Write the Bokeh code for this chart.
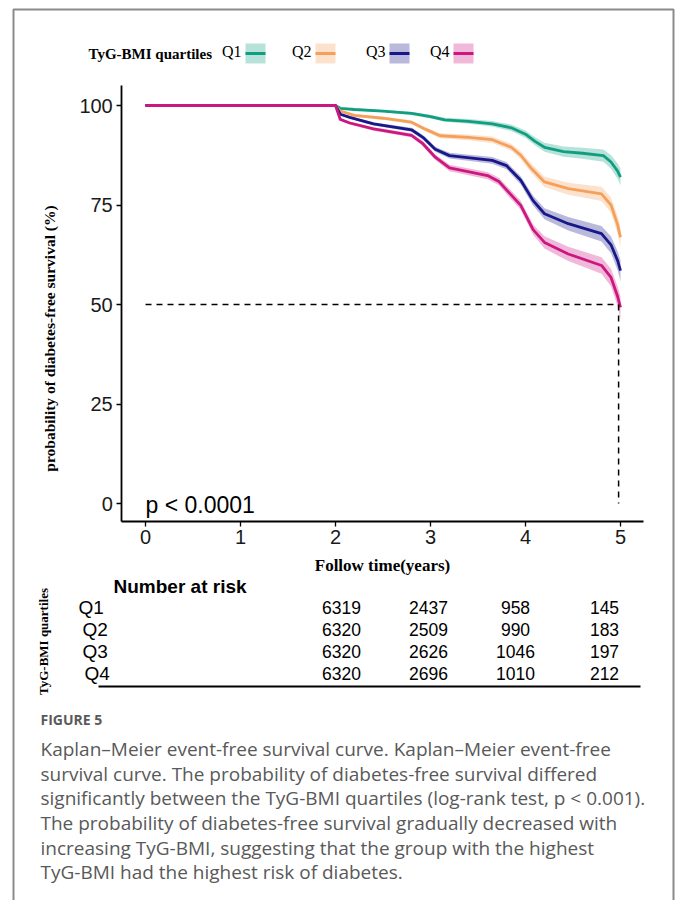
import math
from bokeh.plotting import figure
from bokeh.models import Range1d, LinearAxis, FixedTicker
from bokeh.embed import file_html
from bokeh.resources import INLINE
from bokeh.core.properties import value

# ---------------- data ----------------
groups = ["Q1", "Q2", "Q3", "Q4"]
colors = ["#0F9E80", "#F5A05A", "#18188A", "#CC1780"]

q1_t = [0, 2.0, 2.05, 2.2, 2.5, 2.8, 3.0, 3.15, 3.4, 3.65, 3.85, 4.0, 4.1, 4.2, 4.4, 4.6, 4.82, 4.9, 4.97, 5.0]
q1_s = [100, 100, 99.3, 99.0, 98.6, 98.0, 97.2, 96.4, 96.0, 95.4, 94.4, 92.8, 91.0, 89.5, 88.4, 88.0, 87.4, 85.8, 83.5, 82.0]
q1_ci = [0, 0, 0.15, 0.25, 0.3, 0.4, 0.45, 0.5, 0.6, 0.7, 0.8, 0.9, 1.0, 1.15, 1.3, 1.4, 1.55, 1.7, 1.9, 2.1]

q2_t = [0, 2.0, 2.05, 2.2, 2.5, 2.8, 2.95, 3.1, 3.4, 3.65, 3.85, 3.95, 4.05, 4.2, 4.45, 4.8, 4.9, 4.97, 5.0]
q2_s = [100, 100, 98.6, 97.5, 96.8, 95.8, 94.0, 92.4, 92.0, 91.4, 89.5, 87.5, 84.5, 80.8, 79.1, 77.8, 75.0, 70.0, 66.9]
q2_ci = [0, 0, 0.2, 0.3, 0.4, 0.45, 0.55, 0.65, 0.7, 0.8, 0.9, 1.0, 1.15, 1.3, 1.5, 1.8, 1.95, 2.3, 2.6]

q3_t = [0, 2.0, 2.05, 2.15, 2.4, 2.8, 2.92, 3.05, 3.2, 3.65, 3.8, 3.95, 4.08, 4.2, 4.45, 4.8, 4.9, 4.97, 5.0]
q3_s = [100, 100, 97.8, 97.0, 95.4, 93.9, 92.0, 89.0, 87.4, 86.2, 84.9, 81.2, 76.1, 72.8, 70.3, 67.8, 65.0, 61.0, 58.5]
q3_ci = [0, 0, 0.25, 0.3, 0.4, 0.5, 0.6, 0.65, 0.7, 0.85, 0.9, 1.05, 1.25, 1.4, 1.7, 1.95, 2.1, 2.4, 2.7]

q4_t = [0, 2.0, 2.05, 2.15, 2.4, 2.8, 2.92, 3.05, 3.2, 3.6, 3.72, 3.8, 3.95, 4.08, 4.2, 4.45, 4.8, 4.9, 4.97, 5.0]
q4_s = [100, 100, 96.5, 95.6, 94.1, 92.5, 90.4, 87.0, 84.3, 82.4, 80.9, 78.8, 74.9, 68.8, 65.6, 62.7, 59.8, 56.8, 52.0, 49.3]
q4_ci = [0, 0, 0.25, 0.35, 0.45, 0.5, 0.65, 0.7, 0.8, 0.9, 0.95, 1.05, 1.15, 1.3, 1.55, 1.8, 2.1, 2.2, 2.5, 2.8]

median_time = 4.98
median_surv = 50

x_ticks = [0, 1, 2, 3, 4, 5]
y_ticks = [0, 25, 50, 75, 100]

risk_times = [2, 3, 4, 5]
q1_risk = [6319, 2437, 958, 145]
q2_risk = [6320, 2509, 990, 183]
q3_risk = [6320, 2626, 1046, 197]
q4_risk = [6320, 2696, 1010, 212]

p_label = "p < 0.0001"
legend_title = "TyG-BMI quartiles"
y_title = "probability of diabetes-free survival (%)"
x_title = "Follow time(years)"
table_title = "Number at risk"
caption_head = "FIGURE 5"
caption_lines = [
    "Kaplan\u2013Meier event-free survival curve. Kaplan\u2013Meier event-free",
    "survival curve. The probability of diabetes-free survival differed",
    "significantly between the TyG-BMI quartiles (log-rank test, p < 0.001).",
    "The probability of diabetes-free survival gradually decreased with",
    "increasing TyG-BMI, suggesting that the group with the highest",
    "TyG-BMI had the highest risk of diabetes.",
]

# ---------------- layout constants (page pixels) ----------------
W, H = 676, 900
PX0, PY0 = 0, 0            # page offset of the canvas
X0PIX, XSCALE = 145, 95.0  # x=0 at page px 145, 95 px per year
Y0PIX, YSCALE = 503, 3.98  # y=0 at page px 503, 3.98 px per %

x_start = (PX0 - X0PIX) / XSCALE
x_end = (PX0 + W - X0PIX) / XSCALE
y_start = (Y0PIX - (PY0 + H)) / YSCALE
y_end = (Y0PIX - PY0) / YSCALE

p = figure(width=W, height=H, output_backend="svg", toolbar_location=None,
           x_range=Range1d(x_start, x_end), y_range=Range1d(y_start, y_end),
           x_axis_location=None, y_axis_location=None, min_border=0,
           outline_line_color=None, background_fill_color="white",
           border_fill_color="white")
p.grid.visible = False
p.extra_x_ranges = {"px": Range1d(PX0, PX0 + W)}
p.extra_y_ranges = {"px": Range1d(PY0 + H, PY0)}

SANS = value("Liberation Sans")
SERIF = value("Liberation Serif")
CAP = value("Open Sans")

# axes
xaxis = LinearAxis(fixed_location=-4.5, bounds=(-0.25, 5.24),
                   ticker=FixedTicker(ticks=x_ticks))
yaxis = LinearAxis(fixed_location=-0.25, bounds=(-4.5, 105),
                   ticker=FixedTicker(ticks=y_ticks))
for ax in (xaxis, yaxis):
    ax.axis_line_width = 1.8
    ax.axis_line_color = "black"
    ax.major_tick_line_color = "black"
    ax.major_tick_line_width = 1.3
    ax.major_tick_out = 5
    ax.major_tick_in = 0
    ax.minor_tick_line_color = None
    ax.major_label_text_font = "Liberation Sans"
    ax.major_label_text_font_size = "20px"
    ax.major_label_text_color = "#1a1a1a"
    ax.major_label_standoff = 4
p.add_layout(xaxis, "below")
p.add_layout(yaxis, "left")

# survival curves with confidence bands
series = [(q1_t, q1_s, q1_ci), (q2_t, q2_s, q2_ci), (q3_t, q3_s, q3_ci), (q4_t, q4_s, q4_ci)]
for (t, s, ci), c in zip(series, colors):
    lo = [a - b for a, b in zip(s, ci)]
    hi = [a + b for a, b in zip(s, ci)]
    p.varea(x=t, y1=lo, y2=hi, fill_color=c, fill_alpha=0.3)
for (t, s, ci), c in zip(series, colors):
    p.line(t, s, line_color=c, line_width=2.8)

# median lines
p.line([0, median_time], [median_surv, median_surv], line_color="black",
       line_dash="6 5", line_width=1.5)
p.line([median_time, median_time], [median_surv, 0], line_color="black",
       line_dash="6 5", line_width=1.5)

# p-value
p.text(x=[0], y=[-0.5], text=[p_label], text_font=SANS, text_font_size="23px",
       text_baseline="middle", text_align="left", text_color="black")

# axis titles (page px)
p.text(x=[382], y=[565], text=[x_title], x_range_name="px", y_range_name="px",
       text_font=SERIF, text_font_style="bold", text_font_size="17px",
       text_align="center", text_baseline="middle", text_color="black")
p.text(x=[49], y=[338], text=[y_title], x_range_name="px", y_range_name="px",
       angle=math.pi / 2, text_font=SERIF, text_font_style="bold",
       text_font_size="15.5px", text_align="center", text_baseline="middle",
       text_color="black")

# legend
p.text(x=[88], y=[53], text=[legend_title], x_range_name="px", y_range_name="px",
       text_font=SERIF, text_font_style="bold", text_font_size="15px",
       text_baseline="middle", text_color="black")
key_x = [245, 315, 389, 453]
for g, c, kx in zip(groups, colors, key_x):
    p.text(x=[kx - 4], y=[51], text=[g], x_range_name="px", y_range_name="px",
           text_font=SERIF, text_font_size="16px", text_align="right",
           text_baseline="middle", text_color="black")
    p.quad(left=[kx], right=[kx + 20], top=[43], bottom=[63], x_range_name="px",
           y_range_name="px", fill_color=c, fill_alpha=0.3, line_color=None)
    p.segment(x0=[kx], x1=[kx + 20], y0=[53], y1=[53], x_range_name="px",
              y_range_name="px", line_color=c, line_width=3)

# risk table
p.text(x=[113], y=[586], text=[table_title], x_range_name="px", y_range_name="px",
       text_font=SANS, text_font_style="bold", text_font_size="19px",
       text_baseline="middle", text_color="black")
col_x = [341, 428, 515, 604]
row_y = [607, 629, 651, 673]
lab_x = [78, 82, 82, 84]
for g, risk, ry, lx in zip(groups, [q1_risk, q2_risk, q3_risk, q4_risk], row_y, lab_x):
    p.text(x=[lx], y=[ry], text=[g], x_range_name="px", y_range_name="px",
           text_font=SANS, text_font_size="19px", text_baseline="middle",
           text_color="black")
    p.text(x=col_x, y=[ry] * len(risk), text=[str(v) for v in risk],
           x_range_name="px", y_range_name="px", text_font=SANS,
           text_font_size="17.5px", text_align="center", text_baseline="middle",
           text_color="black")
p.segment(x0=[98], x1=[640], y0=[686], y1=[686], x_range_name="px",
          y_range_name="px", line_color="black", line_width=2.2)
p.text(x=[43], y=[641], text=[legend_title], x_range_name="px", y_range_name="px",
       angle=math.pi / 2, text_font=SERIF, text_font_style="bold",
       text_font_size="13px", text_align="center", text_baseline="middle",
       text_color="black")

# caption
p.text(x=[40], y=[719], text=[caption_head], x_range_name="px", y_range_name="px",
       text_font=CAP, text_font_style="bold", text_font_size="14px",
       text_baseline="middle", text_color="#5a5a5a")
cap_y = [748, 773, 797.5, 822, 847, 871.5]
p.text(x=[40] * len(caption_lines), y=cap_y, text=caption_lines,
       x_range_name="px", y_range_name="px", text_font=CAP,
       text_font_size="19px", text_baseline="middle", text_color="#595959")

# frame border
p.line([13, 13, 673, 673], [905, 9, 9, 905], x_range_name="px", y_range_name="px",
       line_color="#8a8a8a", line_width=2)

open("out.html", "w").write(file_html(p, INLINE))
